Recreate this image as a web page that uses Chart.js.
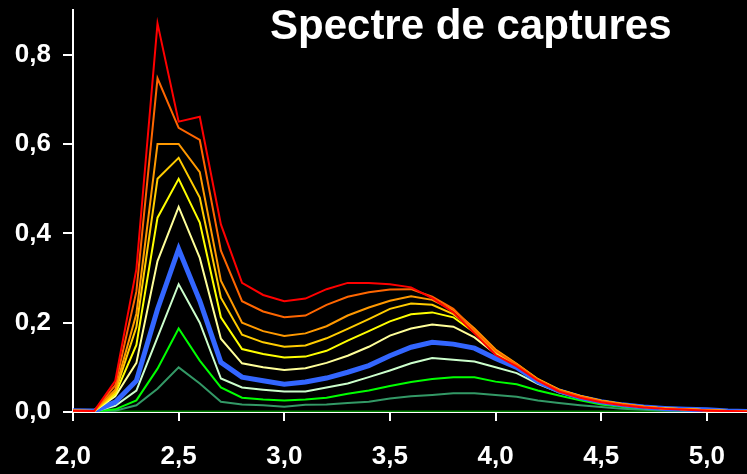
<!DOCTYPE html>
<html>
<head>
<meta charset="utf-8">
<script src="https://cdn.jsdelivr.net/npm/chart.js@4.4.0/dist/chart.umd.min.js"></script>
<style>
  html, body { margin: 0; padding: 0; background: #000; }
  #wrap { position: relative; width: 747px; height: 474px; background: #000; }
  #title {
    position: absolute; left: 270px; top: 4px;
    font: bold 42px "Liberation Sans", Arial, sans-serif; line-height: 42px;
    color: #fff; white-space: nowrap;
  }
</style>
</head>
<body>
<div id="wrap">
  <canvas id="spectre" width="747" height="474"></canvas>
  <div id="title">Spectre de captures</div>
</div>
<script>
// x positions (step 0.1)
const xValues = [2.0, 2.1, 2.2, 2.3, 2.4, 2.5, 2.6, 2.7, 2.8, 2.9, 3.0, 3.1, 3.2, 3.3, 3.4, 3.5, 3.6,
  3.7, 3.8, 3.9, 4.0, 4.1, 4.2, 4.3, 4.4, 4.5, 4.6, 4.7, 4.8, 4.9, 5.0, 5.1, 5.2];

// series, top curve first
const sRed =        [0.003, 0.002, 0.070, 0.320, 0.870, 0.650, 0.661, 0.420, 0.289, 0.262, 0.248, 0.254, 0.275, 0.289, 0.289, 0.286, 0.279,
  0.255, 0.223, 0.176, 0.128, 0.102, 0.070, 0.046, 0.032, 0.022, 0.015, 0.010, 0.007, 0.005, 0.003, 0.002, 0.001];
const sOrangeRed =  [0.003, 0.002, 0.060, 0.270, 0.747, 0.636, 0.609, 0.361, 0.248, 0.225, 0.212, 0.216, 0.240, 0.258, 0.268, 0.274, 0.275,
  0.258, 0.231, 0.183, 0.136, 0.106, 0.072, 0.049, 0.035, 0.024, 0.017, 0.012, 0.008, 0.006, 0.004, 0.002, 0.001];
const sOrange =     [0.003, 0.002, 0.050, 0.220, 0.600, 0.600, 0.537, 0.294, 0.200, 0.181, 0.170, 0.176, 0.192, 0.216, 0.234, 0.249, 0.259,
  0.251, 0.228, 0.187, 0.140, 0.108, 0.074, 0.050, 0.036, 0.025, 0.018, 0.012, 0.008, 0.006, 0.004, 0.002, 0.001];
const sAmber =      [0.003, 0.002, 0.045, 0.190, 0.522, 0.569, 0.480, 0.256, 0.173, 0.156, 0.146, 0.149, 0.165, 0.186, 0.208, 0.231, 0.243,
  0.240, 0.219, 0.183, 0.138, 0.107, 0.073, 0.050, 0.036, 0.025, 0.018, 0.012, 0.008, 0.006, 0.004, 0.002, 0.001];
const sYellow =     [0.003, 0.002, 0.040, 0.150, 0.435, 0.522, 0.424, 0.212, 0.141, 0.130, 0.122, 0.124, 0.137, 0.160, 0.181, 0.203, 0.219,
  0.223, 0.212, 0.178, 0.134, 0.106, 0.072, 0.049, 0.035, 0.024, 0.017, 0.012, 0.008, 0.006, 0.004, 0.002, 0.001];
const sLightYellow =[0.003, 0.002, 0.035, 0.110, 0.338, 0.459, 0.345, 0.164, 0.109, 0.100, 0.094, 0.098, 0.110, 0.126, 0.146, 0.171, 0.187,
  0.196, 0.191, 0.167, 0.130, 0.105, 0.071, 0.048, 0.034, 0.023, 0.016, 0.011, 0.008, 0.006, 0.004, 0.002, 0.001];
const sBlue =       [0.003, 0.002, 0.022, 0.070, 0.230, 0.365, 0.249, 0.111, 0.078, 0.070, 0.062, 0.067, 0.076, 0.089, 0.104, 0.126, 0.145,
  0.156, 0.152, 0.143, 0.120, 0.100, 0.068, 0.047, 0.033, 0.023, 0.016, 0.011, 0.008, 0.006, 0.005, 0.002, 0.001];
const sPaleGreen =  [0.002, 0.001, 0.014, 0.048, 0.167, 0.286, 0.200, 0.075, 0.055, 0.050, 0.046, 0.046, 0.055, 0.064, 0.078, 0.093, 0.109,
  0.121, 0.117, 0.113, 0.100, 0.087, 0.063, 0.044, 0.031, 0.021, 0.014, 0.009, 0.006, 0.004, 0.003, 0.001, 0.001];
const sGreen =      [0.001, 0.001, 0.006, 0.026, 0.097, 0.187, 0.115, 0.055, 0.032, 0.028, 0.026, 0.028, 0.032, 0.041, 0.048, 0.058, 0.067,
  0.074, 0.078, 0.078, 0.068, 0.062, 0.048, 0.037, 0.026, 0.017, 0.011, 0.007, 0.005, 0.003, 0.002, 0.001, 0.001];
const sDarkGreen =  [0.001, 0.001, 0.003, 0.015, 0.052, 0.100, 0.064, 0.023, 0.017, 0.015, 0.012, 0.016, 0.017, 0.020, 0.023, 0.030, 0.035,
  0.038, 0.042, 0.042, 0.038, 0.034, 0.026, 0.020, 0.015, 0.011, 0.007, 0.005, 0.003, 0.002, 0.001, 0.001, 0.001];
const sBaseline =   [null, 0, 0, 0, 0, 0, 0, 0, 0, 0, 0, 0, 0, 0, 0, 0, 0,
  0, 0, 0, 0, 0, 0, 0, 0, 0, 0, 0, 0, 0, 0, 0, 0];

const seriesList = [sRed, sOrangeRed, sOrange, sAmber, sYellow, sLightYellow, sBlue, sPaleGreen, sGreen, sDarkGreen, sBaseline];
const seriesColors = ["#FF0000", "#FF6600", "#FF9900", "#FFCC00", "#FFFF00", "#FFFF99", "#3366FF", "#CCFFCC", "#00FF00", "#339966", "#008000"];
const seriesWidths = [2, 2, 2, 2, 2, 2, 5, 2, 2, 2, 3];

const xTicks = [2.0, 2.5, 3.0, 3.5, 4.0, 4.5, 5.0];
const yTicks = [0.0, 0.2, 0.4, 0.6, 0.8];

const tickFont = { family: "'Liberation Sans', Arial, sans-serif", size: 26, weight: "bold" };
const fmt = v => v.toFixed(1).replace(".", ",");

const datasets = seriesList.map((s, i) => ({
  data: xValues.map((x, j) => ({ x: x, y: s[j] })),
  borderColor: seriesColors[i],
  borderWidth: seriesWidths[i],
  pointRadius: 0,
  tension: 0,
  fill: false
}));

new Chart(document.getElementById("spectre"), {
  type: "line",
  data: { datasets },
  options: {
    responsive: false,
    animation: false,
    layout: { padding: { top: 10, right: 0, left: 0, bottom: 0 } },
    plugins: { legend: { display: false }, tooltip: { enabled: false } },
    scales: {
      x: {
        type: "linear",
        min: 2.0,
        max: 5.19,
        afterBuildTicks: scale => { scale.ticks = xTicks.map(v => ({ value: v })); },
        afterFit: scale => { scale.height = 62; scale.paddingLeft = 0; scale.paddingRight = 0; },
        ticks: { color: "#fff", font: tickFont, padding: 20, maxRotation: 0, callback: v => fmt(v) },
        grid: { drawOnChartArea: false, color: "#fff", lineWidth: 2, tickLength: 9 },
        border: { color: "#fff", width: 2 }
      },
      y: {
        min: 0,
        max: 0.9,
        afterBuildTicks: scale => { scale.ticks = yTicks.map(v => ({ value: v })); },
        afterFit: scale => { scale.width = 73; scale.paddingTop = 0; scale.paddingBottom = 0; },
        ticks: { color: "#fff", font: tickFont, padding: 12, callback: v => fmt(v) },
        grid: { drawOnChartArea: false, color: "#fff", lineWidth: 2, tickLength: 10 },
        border: { color: "#fff", width: 2 }
      }
    }
  }
});
</script>
</body>
</html>
